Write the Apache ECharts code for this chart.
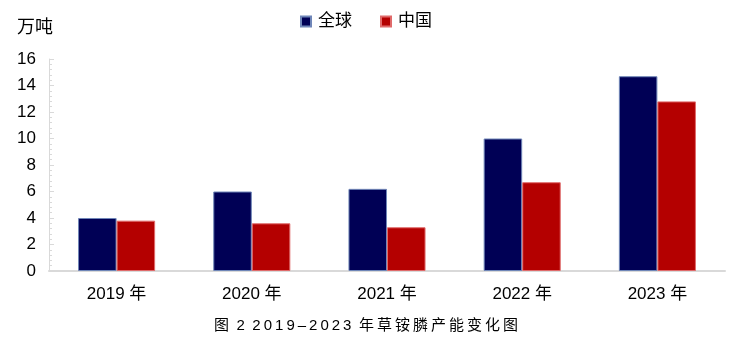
<!DOCTYPE html>
<html>
<head>
<meta charset="utf-8">
<script src="https://cdn.jsdelivr.net/npm/echarts@6/dist/echarts.min.js"></script>
<style>
html,body{margin:0;padding:0;background:#fff;}
#c{width:732px;height:352px;}
</style>
</head>
<body>
<div id="c"></div>
<script>
var categories = ['2019 年', '2020 年', '2021 年', '2022 年', '2023 年'];
var globalValues = [4.0, 6.0, 6.2, 10.0, 14.7];
var chinaValues = [3.8, 3.6, 3.3, 6.7, 12.8];
var seriesNames = ['全球', '中国'];
var unitLabel = '万吨';
var caption = '图 2 2019–2023 年草铵膦产能变化图';

// emulate the caption's letter spacing: thin spaces between glyphs, en spaces for word gaps
function spaced(s) {
  var chars = Array.from(s);
  var out = '';
  for (var i = 0; i < chars.length; i++) {
    if (chars[i] === ' ') { out += '\u2002'; continue; }
    out += chars[i];
    if (i < chars.length - 1 && chars[i + 1] !== ' ') out += '\u2009';
  }
  return out;
}

var font = '"Liberation Sans", Arial, "Noto Sans CJK SC", sans-serif';
var chart = echarts.init(document.getElementById('c'));
chart.setOption({
  animation: false,
  textStyle: {fontFamily: font},
  title: {
    text: spaced(caption),
    left: 'center',
    top: 318,
    padding: 0,
    textStyle: {fontSize: 15, fontWeight: 'normal', color: '#000', fontFamily: font}
  },
  legend: {
    data: seriesNames,
    top: 13,
    left: 'center',
    padding: 0,
    itemWidth: 10,
    itemHeight: 10,
    itemGap: 28,
    icon: 'rect',
    textStyle: {fontSize: 17, color: '#000', fontFamily: font, padding: [0, 0, 0, 2]}
  },
  grid: {left: 49, right: 7, top: 59, bottom: 81, containLabel: false},
  xAxis: {
    type: 'category',
    data: categories,
    axisLine: {lineStyle: {color: '#d9d9d9', width: 2}},
    axisTick: {show: false},
    axisLabel: {fontSize: 17, color: '#000', margin: 15, fontFamily: font}
  },
  yAxis: {
    type: 'value',
    name: unitLabel,
    nameLocation: 'end',
    nameGap: 22,
    nameTextStyle: {fontSize: 18, color: '#000', align: 'right', padding: [0, -4, 0, 0], fontFamily: font},
    min: 0,
    max: 16,
    interval: 2,
    axisLine: {show: true, lineStyle: {color: '#d9d9d9', width: 1}},
    axisTick: {show: true, inside: true, length: 5, lineStyle: {color: '#d9d9d9'}},
    minorTick: {show: true, splitNumber: 5, length: 3, lineStyle: {color: '#d9d9d9'}},
    splitLine: {show: false},
    axisLabel: {fontSize: 17, color: '#000', margin: 13, fontFamily: font}
  },
  series: [
    {
      name: seriesNames[0],
      type: 'bar',
      data: globalValues,
      barGap: '0%',
      barCategoryGap: '43%',
      itemStyle: {color: '#000055', borderColor: '#6f86b8', borderWidth: 1}
    },
    {
      name: seriesNames[1],
      type: 'bar',
      data: chinaValues,
      itemStyle: {color: '#b40000', borderColor: '#e06a6a', borderWidth: 1}
    }
  ]
});
</script>
</body>
</html>
